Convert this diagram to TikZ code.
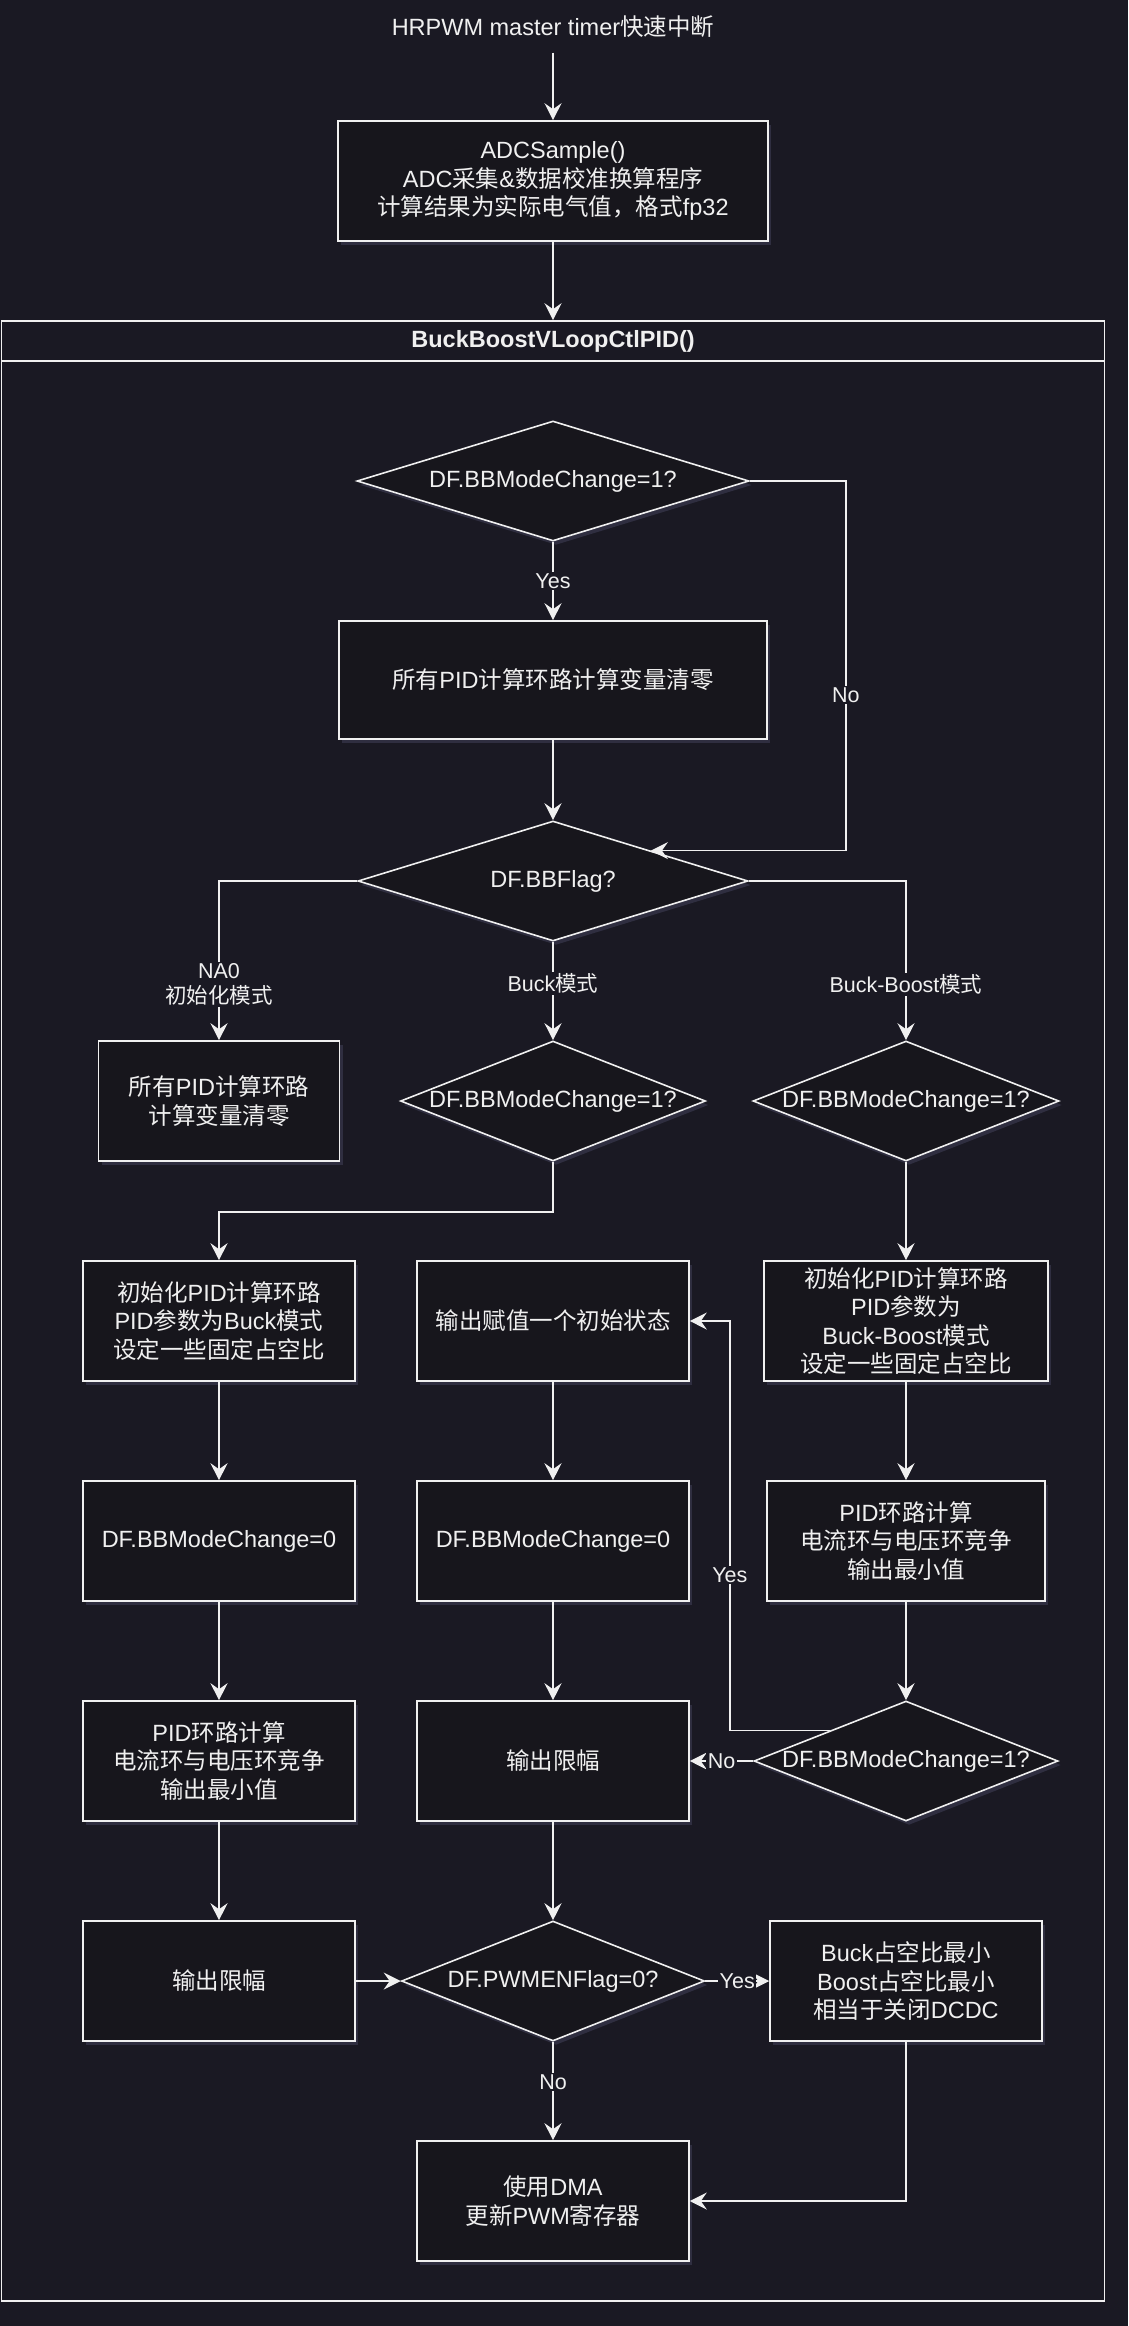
\documentclass[tikz,border=0pt]{standalone}
\usepackage{fontspec}
\setmainfont{Liberation Sans}
\newfontfamily\zh{Noto Sans CJK SC}
\usepackage{tikz}
\usetikzlibrary{arrows.meta,shapes.geometric,shadows}
\definecolor{bgcol}{HTML}{1A1923}
\definecolor{boxcol}{HTML}{17161C}
\definecolor{fgcol}{HTML}{F0F0F0}
\definecolor{glowcol}{HTML}{44445E}
\newcommand{\zhfnt}[1]{{\zh #1}}

\begin{document}
\begin{tikzpicture}[->,>={Stealth[length=17pt,width=17pt,inset=6pt]},x=1pt,y=-1pt,line width=1.6pt,color=fgcol,
  every node/.style={text=fgcol,font=\fontsize{23.5}{28.5}\selectfont}]
  \tikzstyle{box}=[rectangle,draw=fgcol,fill=boxcol,align=center,minimum width=272pt,minimum height=120pt,inner sep=0pt,
    drop shadow={shadow xshift=3pt,shadow yshift=-4pt,fill=glowcol,opacity=.5}]
  \tikzstyle{dia}=[diamond,draw=fgcol,fill=boxcol,minimum width=305pt,minimum height=120pt,inner sep=0pt,
    drop shadow={shadow xshift=3pt,shadow yshift=-4pt,fill=glowcol,opacity=.5}]
  \tikzstyle{frame}=[rectangle,draw=fgcol,minimum width=1103pt,inner sep=0pt]
  \tikzstyle{lbl}=[fill=bgcol,inner sep=1.5pt,align=center,font=\fontsize{21.5}{25}\selectfont]
  \fill[bgcol] (0,0) rectangle (1128,2326);
  \useasboundingbox (0,0) rectangle (1128,2326);
  % outer part
  \node[inner sep=14pt] (title) at (553,27) {HRPWM master timer\zhfnt{快速中断}};
  \node[box,minimum width=430pt] (adc) at (553,181) {ADCSample()\\ADC\zhfnt{采集}\&\zhfnt{数据校准换算程序}\\\zhfnt{计算结果为实际电气值，格式}fp32};
  \node[frame,minimum height=1980pt] (pid) at (553,1311) {};
  \node[frame,minimum height=40pt,font=\fontsize{23.5}{28.5}\selectfont\bfseries] (pidhead) at (553,341) {BuckBoostVLoopCtlPID()};
  % mode change check
  \node[dia,minimum width=392pt] (dia1) at (553,481) {};
  \node (dia1txt) at (dia1) {DF.BBModeChange=1?};
  \node[box,minimum width=428pt,minimum height=118pt] (clr) at (553,680) {\zhfnt{所有}PID\zhfnt{计算环路计算变量清零}};
  \node[dia,minimum width=390pt] (flag) at (553,881) {};
  \node (flagtxt) at (flag) {DF.BBFlag?};
  % three modes
  \node[box,minimum width=241pt] (na0) at (219,1101) {\zhfnt{所有}PID\zhfnt{计算环路}\\\zhfnt{计算变量清零}};
  \node[dia] (buckchg) at (553,1101) {};
  \node (buckchgtxt) at (buckchg) {DF.BBModeChange=1?};
  \node[dia,minimum width=306pt] (bbchg) at (906,1101) {};
  \node (bbchgtxt) at (bbchg) {DF.BBModeChange=1?};
  \node[box] (buckinit) at (219,1321) {\zhfnt{初始化}PID\zhfnt{计算环路}\\PID\zhfnt{参数为}Buck\zhfnt{模式}\\\zhfnt{设定一些固定占空比}};
  \node[box] (keepinit) at (553,1321) {\zhfnt{输出赋值一个初始状态}};
  \node[box,minimum width=284pt] (bbinit) at (906,1321) {\zhfnt{初始化}PID\zhfnt{计算环路}\\PID\zhfnt{参数为}\\Buck-Boost\zhfnt{模式}\\\zhfnt{设定一些固定占空比}};
  \node[box] (buckclr) at (219,1541) {DF.BBModeChange=0};
  \node[box] (keepclr) at (553,1541) {DF.BBModeChange=0};
  \node[box,minimum width=278pt] (bbpid) at (906,1541) {PID\zhfnt{环路计算}\\\zhfnt{电流环与电压环竞争}\\\zhfnt{输出最小值}};
  \node[box] (buckpid) at (219,1761) {PID\zhfnt{环路计算}\\\zhfnt{电流环与电压环竞争}\\\zhfnt{输出最小值}};
  \node[box] (keeplim) at (553,1761) {\zhfnt{输出限幅}};
  \node[dia,minimum width=304pt] (bbchk) at (906,1761) {};
  \node (bbchktxt) at (bbchk) {DF.BBModeChange=1?};
  % pwm output
  \node[box] (bucklim) at (219,1981) {\zhfnt{输出限幅}};
  \node[dia,minimum width=303pt] (pwmen) at (553,1981) {};
  \node (pwmentxt) at (pwmen) {DF.PWMENFlag=0?};
  \node[box] (pwmoff) at (906,1981) {Buck\zhfnt{占空比最小}\\Boost\zhfnt{占空比最小}\\\zhfnt{相当于关闭}DCDC};
  \node[box] (dma) at (553,2201) {\zhfnt{使用}DMA\\\zhfnt{更新}PWM\zhfnt{寄存器}};
  % connectors
  \draw (title) -- (adc);
  \draw (adc) -- (pidhead);
  \draw (dia1) -- node[lbl] (yes1) {Yes} (clr);
  \draw (dia1.east) -| node[lbl,pos=.79] (no1) {No} ([xshift=195pt]flag.north east) -- (flag.north east);
  \draw (clr) -- (flag);
  \draw (flag.west) -| node[lbl,pos=.825] (lblna0) {NA0\\\zhfnt{初始化模式}} (na0.north);
  \draw (flag) -- node[lbl,pos=.42] (lblbuck) {Buck\zhfnt{模式}} (buckchg);
  \draw (flag.east) -| node[lbl,pos=.825] (lblbb) {Buck-Boost\zhfnt{模式}} (bbchg.north);
  \draw (buckchg.south) -- ++(0,50) -| (buckinit.north);
  \draw (bbchg) -- (bbinit);
  \draw (buckinit) -- (buckclr);
  \draw (buckclr) -- (buckpid);
  \draw (buckpid) -- (bucklim);
  \draw (keepinit) -- (keepclr);
  \draw (keepclr) -- (keeplim);
  \draw (keeplim) -- (pwmen);
  \draw (bbinit) -- (bbpid);
  \draw (bbpid) -- (bbchk);
  \draw (bbchk.north west) -| node[lbl,pos=.69] (yes2) {Yes} ([xshift=40pt]keepinit.east) -- (keepinit.east);
  \draw (bbchk) -- node[lbl] (no2) {No} (keeplim);
  \draw (bucklim) -- (pwmen);
  \draw (pwmen) -- node[lbl] (yes3) {Yes} (pwmoff);
  \draw (pwmen) -- node[lbl,pos=.41] (no3) {No} (dma);
  \draw (pwmoff.south) |- (dma.east);
\end{tikzpicture}
\end{document}
